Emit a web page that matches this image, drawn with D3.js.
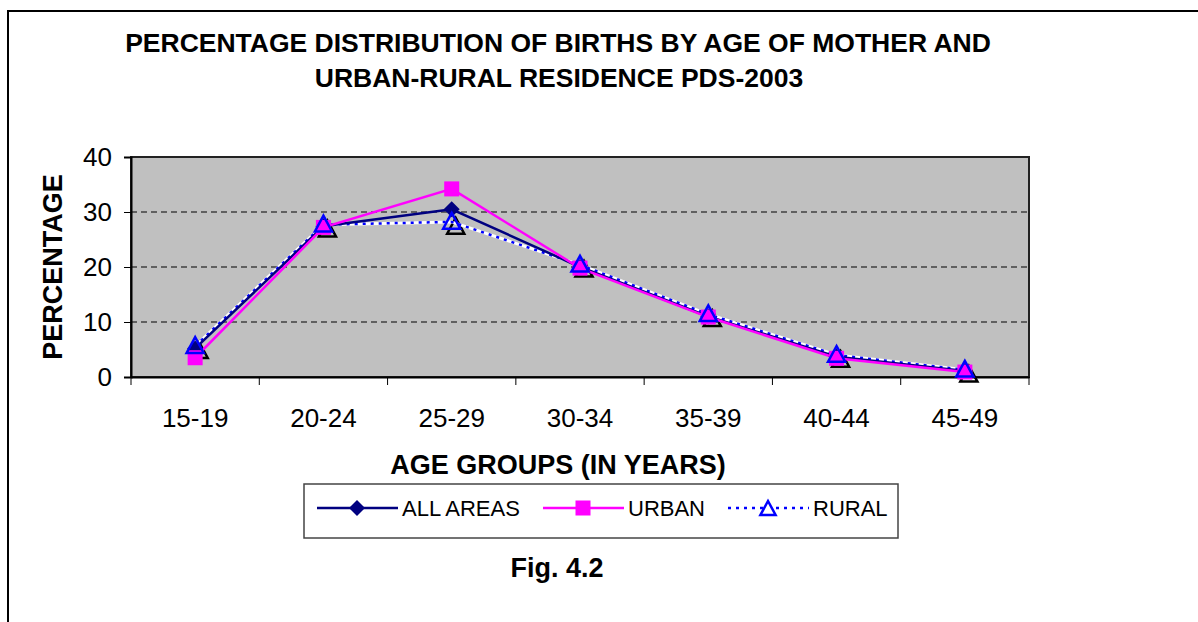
<!DOCTYPE html>
<html>
<head>
<meta charset="utf-8">
<script src="https://cdn.jsdelivr.net/npm/d3@7"></script>
<style>
  body { margin: 0; background: #fff; }
  svg { display: block; font-family: Arial, "Liberation Sans", sans-serif; }
</style>
</head>
<body>
<svg id="chart" width="1198" height="622"></svg>
<script>
// data
var ageGroups = ["15-19", "20-24", "25-29", "30-34", "35-39", "40-44", "45-49"];
var allAreas = [5.2, 27.4, 30.5, 20.0, 11.0, 3.7, 1.1];
var urban = [3.5, 27.2, 34.2, 19.8, 10.9, 3.4, 0.9];
var rural = [5.6, 27.7, 28.2, 20.4, 11.4, 4.0, 1.3];
var yTicks = [0, 10, 20, 30, 40];

var svg = d3.select("#chart");

var margin = {left: 131, top: 157, right: 1029, bottom: 377};

var x = d3.scaleBand()
	.domain(ageGroups)
	.range([margin.left, margin.right]);

var y = d3.scaleLinear()
	.domain([0, 40])
	.range([margin.bottom, margin.top]);

// outer frame (left + top only, as in the scan)
svg.append("path")
	.attr("d", "M8,622 V11 H1198")
	.attr("fill", "none")
	.attr("stroke", "#000")
	.attr("stroke-width", 2);

// title
var title = svg.append("text")
	.attr("text-anchor", "middle")
	.attr("font-weight", "bold")
	.attr("font-size", 26.5);
title.append("tspan").attr("x", 558).attr("y", 52)
	.text("PERCENTAGE DISTRIBUTION OF BIRTHS BY AGE OF MOTHER AND");
title.append("tspan").attr("x", 559).attr("y", 87)
	.text("URBAN-RURAL RESIDENCE PDS-2003");

// plot area
svg.append("rect")
	.attr("x", margin.left)
	.attr("y", margin.top)
	.attr("width", margin.right - margin.left)
	.attr("height", margin.bottom - margin.top)
	.attr("fill", "#c0c0c0")
	.attr("stroke", "#222")
	.attr("stroke-width", 2);

// gridlines
svg.append("g")
	.selectAll("line")
	.data(yTicks.filter(function(d){ return d > 0 && d < 40; }))
	.enter()
	.append("line")
	.attr("x1", margin.left)
	.attr("x2", margin.right)
	.attr("y1", function(d){ return y(d); })
	.attr("y2", function(d){ return y(d); })
	.attr("stroke", "#000")
	.attr("stroke-width", 1)
	.attr("stroke-dasharray", "6,4");

// y axis
var yAxis = svg.append("g")
	.attr("transform", "translate(" + margin.left + ",0)")
	.call(d3.axisLeft(y).tickValues(yTicks).tickSize(7).tickPadding(12));
yAxis.select(".domain").attr("stroke", "#000").attr("stroke-width", 2);
yAxis.selectAll(".tick line").attr("stroke", "#000").attr("stroke-width", 1);
yAxis.selectAll("text")
	.attr("font-size", 26)
	.attr("font-family", "Arial, 'Liberation Sans', sans-serif")
	.attr("fill", "#000");

// x axis: ticks on category boundaries
var xAxis = svg.append("g")
	.attr("transform", "translate(0," + margin.bottom + ")")
	.call(d3.axisBottom(x).tickSize(0).tickPadding(32));
xAxis.select(".domain").attr("stroke", "#000").attr("stroke-width", 2);
xAxis.selectAll("text")
	.attr("font-size", 26)
	.attr("font-family", "Arial, 'Liberation Sans', sans-serif")
	.attr("fill", "#000");
xAxis.selectAll(".boundary")
	.data(ageGroups.concat(["end"]))
	.enter()
	.append("line")
	.attr("x1", function(d, i){ return margin.left + i * x.step(); })
	.attr("x2", function(d, i){ return margin.left + i * x.step(); })
	.attr("y1", 0)
	.attr("y2", 8)
	.attr("stroke", "#000")
	.attr("stroke-width", 1);

// axis titles
svg.append("text")
	.attr("transform", "translate(62,267) rotate(-90)")
	.attr("text-anchor", "middle")
	.attr("font-weight", "bold")
	.attr("font-size", 27)
	.text("PERCENTAGE");

svg.append("text")
	.attr("x", 558)
	.attr("y", 474)
	.attr("text-anchor", "middle")
	.attr("font-weight", "bold")
	.attr("font-size", 27)
	.text("AGE GROUPS (IN YEARS)");

var cx = function(d, i){ return x(ageGroups[i]) + x.bandwidth() / 2; };
var line = d3.line()
	.x(cx)
	.y(function(d){ return y(d); });

var navy = "#000080", magenta = "#ff00ff", blue = "#0000ff";

function diamond(sel, s){
	sel.attr("d", "M0," + (-s) + "L" + s + ",0L0," + s + "L" + (-s) + ",0Z");
}
function triangle(s){
	return "M0," + (-s) + "L" + (s * 0.95) + "," + (s * 0.75) + "L" + (-s * 0.95) + "," + (s * 0.75) + "Z";
}

var plot = svg.append("g");

// rural shadow triangles
plot.selectAll(".shadow")
	.data(rural)
	.enter()
	.append("path")
	.attr("class", "shadow")
	.attr("d", triangle(9))
	.attr("transform", function(d, i){ return "translate(" + (cx(d, i) + 4) + "," + (y(d) + 5) + ")"; })
	.attr("fill", "none")
	.attr("stroke", "#000")
	.attr("stroke-width", 2.5);

// rural line: white with blue dots
plot.append("path")
	.datum(rural)
	.attr("d", line)
	.attr("fill", "none")
	.attr("stroke", "#fff")
	.attr("stroke-width", 3);
plot.append("path")
	.datum(rural)
	.attr("d", line)
	.attr("fill", "none")
	.attr("stroke", blue)
	.attr("stroke-width", 2.5)
	.attr("stroke-dasharray", "3,5");

// all areas
plot.append("path")
	.datum(allAreas)
	.attr("d", line)
	.attr("fill", "none")
	.attr("stroke", navy)
	.attr("stroke-width", 2.5);

// urban
plot.append("path")
	.datum(urban)
	.attr("d", line)
	.attr("fill", "none")
	.attr("stroke", magenta)
	.attr("stroke-width", 2.5);

plot.selectAll(".dia")
	.data(allAreas)
	.enter()
	.append("path")
	.attr("class", "dia")
	.call(diamond, 8)
	.attr("transform", function(d, i){ return "translate(" + cx(d, i) + "," + y(d) + ")"; })
	.attr("fill", navy);

plot.selectAll(".sq")
	.data(urban)
	.enter()
	.append("rect")
	.attr("class", "sq")
	.attr("x", function(d, i){ return cx(d, i) - 7.5; })
	.attr("y", function(d){ return y(d) - 7.5; })
	.attr("width", 15)
	.attr("height", 15)
	.attr("fill", magenta);

plot.selectAll(".tri")
	.data(rural)
	.enter()
	.append("path")
	.attr("class", "tri")
	.attr("d", triangle(9))
	.attr("transform", function(d, i){ return "translate(" + cx(d, i) + "," + y(d) + ")"; })
	.attr("fill", "none")
	.attr("stroke", blue)
	.attr("stroke-width", 2.5);

// legend
var legend = svg.append("g");
legend.append("rect")
	.attr("x", 304)
	.attr("y", 484)
	.attr("width", 594)
	.attr("height", 54)
	.attr("fill", "#fff")
	.attr("stroke", "#444")
	.attr("stroke-width", 1.5);

var legendItems = [
	{name: "ALL AREAS", x0: 317, color: navy, type: "diamond"},
	{name: "URBAN", x0: 543, color: magenta, type: "square"},
	{name: "RURAL", x0: 728, color: blue, type: "triangle"}
];
var ly = 508;
legendItems.forEach(function(item){
	var g = legend.append("g");
	var ln = g.append("line")
		.attr("x1", item.x0).attr("x2", item.x0 + 81)
		.attr("y1", ly).attr("y2", ly)
		.attr("stroke", item.color)
		.attr("stroke-width", 2.5);
	if (item.type === "triangle") ln.attr("stroke-dasharray", "3,5");
	var mx = item.x0 + 40;
	if (item.type === "diamond") {
		g.append("path").call(diamond, 8)
			.attr("transform", "translate(" + mx + "," + ly + ")")
			.attr("fill", item.color);
	} else if (item.type === "square") {
		g.append("rect")
			.attr("x", mx - 7.5).attr("y", ly - 7.5)
			.attr("width", 15).attr("height", 15)
			.attr("fill", item.color);
	} else {
		g.append("path").attr("d", triangle(8))
			.attr("transform", "translate(" + mx + "," + (ly + 1) + ")")
			.attr("fill", "#fff")
			.attr("stroke", item.color)
			.attr("stroke-width", 2.5);
	}
	g.append("text")
		.attr("x", item.x0 + 85)
		.attr("y", ly + 8)
		.attr("font-size", 22)
		.text(item.name);
});

svg.append("text")
	.attr("x", 557)
	.attr("y", 577)
	.attr("text-anchor", "middle")
	.attr("font-weight", "bold")
	.attr("font-size", 27)
	.text("Fig. 4.2");
</script>
</body>
</html>
